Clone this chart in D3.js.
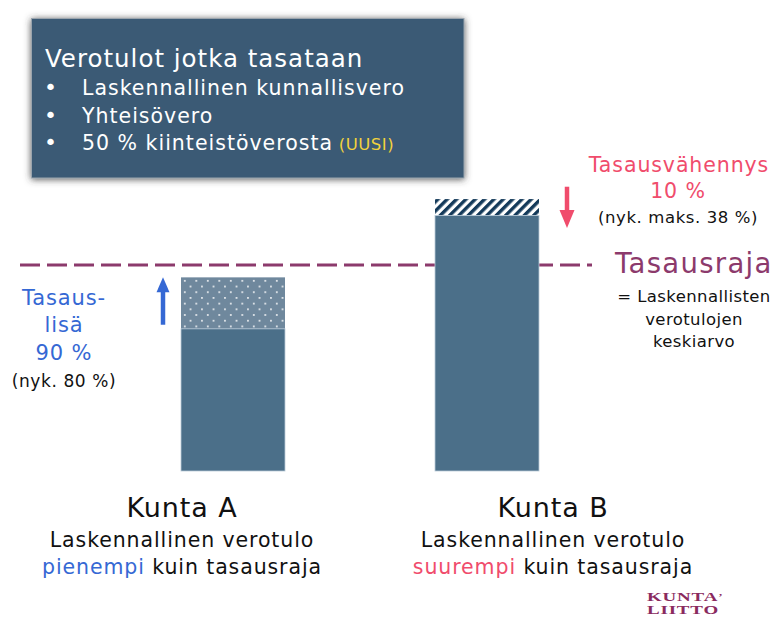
<!DOCTYPE html>
<html>
<head>
<meta charset="utf-8">
<style>
  body { margin: 0; background: #fff; }
  svg { display: block; font-family: 'DejaVu Sans', Verdana, sans-serif; }
</style>
</head>
<body>
<svg width="783" height="617"></svg>
<script src="https://cdn.jsdelivr.net/npm/d3@7/dist/d3.min.js"></script>
<script>
// laskennallinen verotulo suhteessa tasausrajaan (= 100)
const kunnat = ["Kunta A", "Kunta B"];
const verotulo = [69, 132];
const muutos = [25, -8];          // tasauslisä (+) / tasausvähennys (-)
const tasausraja = 100;
const verotulotLista = ["Laskennallinen kunnallisvero", "Yhteisövero", "50 % kiinteistöverosta"];
const vertailu = ["pienempi", "suurempi"];

const blue = "#3568d4", red = "#f04c6c", plum = "#8c3a6c", barCol = "#4b6f89";

const svg = d3.select("svg");
const y = d3.scaleLinear().domain([0, tasausraja]).range([471, 265]);
const x = d3.scalePoint().domain(kunnat).range([233, 487]);
const barW = 104;
const labelX = [182, 553];

const defs = svg.append("defs");
const shadow = defs.append("filter").attr("id", "shadow")
    .attr("x", "-10%").attr("y", "-15%").attr("width", "120%").attr("height", "135%");
shadow.append("feDropShadow").attr("dx", 0).attr("dy", 1).attr("stdDeviation", 3.5)
    .attr("flood-color", "#3a3a3a").attr("flood-opacity", 0.85);

const dots = defs.append("pattern").attr("id", "dots")
    .attr("patternUnits", "userSpaceOnUse").attr("width", 11.5).attr("height", 11.4)
    .attr("x", 181).attr("y", 278);
dots.append("rect").attr("width", 11.5).attr("height", 11.4).attr("fill", "#6f889d");
dots.append("rect").attr("x", 3).attr("y", 2).attr("width", 1.6).attr("height", 1.6).attr("fill", "#fff");
dots.append("rect").attr("x", 8.7).attr("y", 7.7).attr("width", 1.6).attr("height", 1.6).attr("fill", "#fff");

const hatch = defs.append("pattern").attr("id", "hatch")
    .attr("patternUnits", "userSpaceOnUse").attr("width", 6.6).attr("height", 10)
    .attr("patternTransform", "rotate(45)");
hatch.append("rect").attr("width", 6.6).attr("height", 10).attr("fill", "#fff");
hatch.append("rect").attr("width", 3.4).attr("height", 10).attr("fill", "#143a5a");

function text(g, xx, yy, str, size, fill, anchor, ls) {
  return g.append("text").attr("x", xx).attr("y", yy).text(str)
    .attr("font-size", size).attr("fill", fill || "#111")
    .attr("text-anchor", anchor || "start")
    .attr("letter-spacing", ls == null ? 0.9 : ls);
}

// info box
const box = svg.append("g");
box.append("rect").attr("x", 31.5).attr("y", 18.5).attr("width", 432.5).attr("height", 159.5)
  .attr("fill", "#3a5a74").attr("stroke", "#9aa4ad").attr("stroke-width", 1)
  .attr("filter", "url(#shadow)");
text(box, 45, 67, "Verotulot jotka tasataan", 24.5, "#fff", "start", 1);
verotulotLista.forEach((d, i) => {
  const yy = 95 + i * 27.5;
  text(box, 44, yy, "•", 22, "#fff");
  const t = text(box, 82, yy, d, 20.5, "#fff", "start", 1);
  if (i === 2) t.append("tspan").text(" (UUSI)").attr("font-size", 16.5).attr("fill", "#f2d23c").attr("letter-spacing", 0.5);
});

// tasausraja
svg.append("line").attr("x1", 20).attr("x2", 592).attr("y1", y(tasausraja)).attr("y2", y(tasausraja))
  .attr("stroke", plum).attr("stroke-width", 3).attr("stroke-dasharray", "20 7");

// bars
const bars = svg.append("g");
kunnat.forEach((k, i) => {
  const lo = Math.min(verotulo[i], verotulo[i] + muutos[i]);
  const hi = Math.max(verotulo[i], verotulo[i] + muutos[i]);
  bars.append("rect").attr("x", x(k) - barW / 2).attr("width", barW)
    .attr("y", y(hi)).attr("height", y(lo) - y(hi))
    .attr("fill", muutos[i] > 0 ? "url(#dots)" : "url(#hatch)");
  bars.append("rect").attr("x", x(k) - barW / 2).attr("width", barW)
    .attr("y", y(lo)).attr("height", y(0) - y(lo))
    .attr("fill", barCol).attr("stroke", "#b9cad8").attr("stroke-width", 0.8);
});

// arrows
function arrow(xx, y0, y1, col, hw, hl, sw) {
  const dir = y1 > y0 ? 1 : -1;
  const yb = y1 - dir * hl;
  svg.append("line").attr("x1", xx).attr("x2", xx).attr("y1", y0).attr("y2", yb + dir)
    .attr("stroke", col).attr("stroke-width", sw);
  svg.append("path").attr("d", `M${xx - hw / 2},${yb}L${xx + hw / 2},${yb}L${xx},${y1}Z`).attr("fill", col);
}
arrow(163, y(verotulo[0] + 2), y(verotulo[0] + muutos[0]), blue, 13, 15, 4.5);
arrow(567, y(verotulo[1] + 6), y(verotulo[1] - 14), red, 15, 18, 4.5);

// left annotation
const la = svg.append("g");
text(la, 64, 305, "Tasaus-", 21, blue, "middle");
text(la, 64, 332, "lisä", 21, blue, "middle");
text(la, 64, 360, "90 %", 21, blue, "middle");
text(la, 64, 387, "(nyk. 80 %)", 17, "#111", "middle", 0.6);

// right annotations
const ra = svg.append("g");
text(ra, 679, 172, "Tasausvähennys", 20.5, red, "middle");
text(ra, 678, 198, "10 %", 20.5, red, "middle");
text(ra, 678, 223, "(nyk. maks. 38 %)", 16.5, "#111", "middle", 0.6);
text(ra, 615, 273, "Tasausraja", 27.5, plum, "start", 1.3);
text(ra, 694, 302, "= Laskennallisten", 16.5, "#111", "middle", 0.4);
text(ra, 694, 325, "verotulojen", 16.5, "#111", "middle", 0.4);
text(ra, 694, 347, "keskiarvo", 16.5, "#111", "middle", 0.4);

// bottom labels
const bl = svg.append("g");
kunnat.forEach((k, i) => {
  text(bl, labelX[i], 517, k, 27, "#111", "middle", 0.9);
  text(bl, labelX[i], 547, "Laskennallinen verotulo", 20.5, "#111", "middle", 0.9);
  const t = text(bl, labelX[i], 574, "", 20.5, "#111", "middle", 0.9);
  t.append("tspan").text(vertailu[i]).attr("fill", i === 0 ? blue : red);
  t.append("tspan").text(" kuin tasausraja");
});

// logo
const logo = svg.append("g").attr("transform", "translate(647,0) scale(1.65,1)")
  .attr("font-family", "'Liberation Serif', serif").attr("font-weight", "bold");
const k1 = text(logo, 0, 601.5, "KUNTA", 11.5, "#8a2a5e", "start", 0.5);
k1.append("tspan").text("’").attr("font-size", 8).attr("dy", -1);
text(logo, 0, 614.3, "LIITTO", 11.5, "#8a2a5e", "start", 0.5);
</script>
</body>
</html>
